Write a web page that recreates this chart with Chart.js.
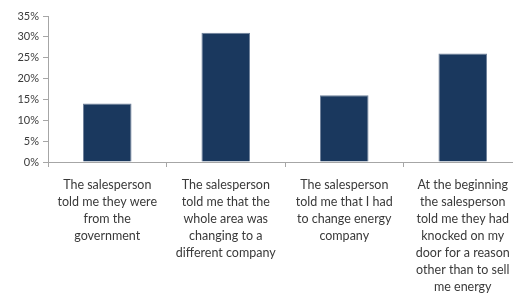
<!DOCTYPE html>
<html>
<head>
<meta charset="utf-8">
<script src="https://cdn.jsdelivr.net/npm/chart.js@4"></script>
<style>
  html, body { margin: 0; padding: 0; background: #fff; overflow: hidden; }
  #wrap { width: 522px; height: 296px; }
</style>
</head>
<body>
<div id="wrap"><canvas id="myChart"></canvas></div>
<script>
// categories (multi-line as in the original)
const categories = [
  ["The salesperson", "told me they were", "from the", "government"],
  ["The salesperson", "told me that the", "whole area was", "changing to a", "different company"],
  ["The salesperson", "told me that I had", "to change energy", "company"],
  ["At the beginning", "the salesperson", "told me they had", "knocked on my", "door for a reason", "other than to sell", "me energy"]
];
// percent of respondents
const values = [14, 31, 16, 26];
const yTicks = [0, 5, 10, 15, 20, 25, 30, 35];

const axisGray = "#a6a6a6";
const textColor = "#3a3a3a";
const fontFamily = "Lato, 'Liberation Sans', sans-serif";

const ctx = document.getElementById("myChart").getContext("2d");
const myChart = new Chart(ctx, {
  type: "bar",
  data: {
    labels: categories,
    datasets: [
      {
        data: values,
        backgroundColor: "#1a385e",
        borderColor: "#6f819a",
        borderWidth: 1,
        barPercentage: 0.82,
        categoryPercentage: 0.5,
      },
    ],
  },
  options: {
    responsive: true,
    maintainAspectRatio: false,
    animation: false,
    layout: { padding: { top: 16, left: 0, right: 0, bottom: 0 } },
    plugins: { legend: { display: false }, tooltip: { enabled: false } },
    scales: {
      x: {
        grid: {
          offset: true,
          drawOnChartArea: false,
          drawTicks: true,
          tickLength: 5,
          color: axisGray,
        },
        border: { color: axisGray, width: 1 },
        ticks: {
          maxRotation: 0,
          autoSkip: false,
          padding: 9,
          color: textColor,
          font: { family: fontFamily, size: 12.5, lineHeight: 1.36 },
        },
        afterFit: (scale) => { scale.height = 134; },
      },
      y: {
        min: 0,
        max: 35,
        afterBuildTicks: (scale) => {
          scale.ticks = yTicks.map((v) => ({ value: v }));
        },
        grid: {
          drawOnChartArea: false,
          drawTicks: true,
          tickLength: 5,
          color: axisGray,
        },
        border: { color: axisGray, width: 1 },
        ticks: {
          padding: 4,
          color: textColor,
          font: { family: fontFamily, size: 11 },
          callback: (v) => v + "%",
        },
        afterFit: (scale) => { scale.width = 48; },
      },
    },
  },
});
</script>
</body>
</html>
